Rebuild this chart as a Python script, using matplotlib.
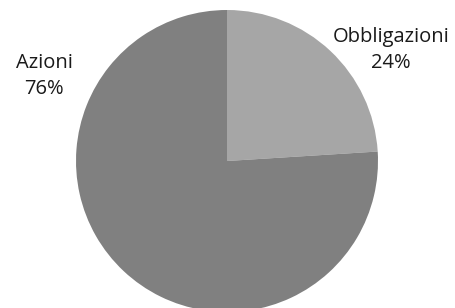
import matplotlib
matplotlib.use('Agg')
from matplotlib import pyplot as plt

# data
labels = ['Obbligazioni', 'Azioni']
values = [24, 76]
colors = ['#a6a6a6', '#808080']

fig = plt.figure(figsize=(4.56, 3.08), dpi=100)
# pie box in pixels: x 76..378, y 10..312 (slightly clipped at bottom)
ax = fig.add_axes([76 / 456, (308 - 312) / 308, 302 / 456, 302 / 308])
ax.pie(values, colors=colors, startangle=90, counterclock=False,
       radius=1, wedgeprops=dict(linewidth=0))
ax.set_xlim(-1, 1)
ax.set_ylim(-1, 1)
ax.set_aspect('equal')
ax.axis('off')

# labels outside the pie
pos = {'Obbligazioni': (1.086, 0.735), 'Azioni': (-1.212, 0.563)}
for lab, v in zip(labels, values):
    x, y = pos[lab]
    ax.text(x, y, '%s\n%d%%' % (lab, v), ha='center', va='center',
            fontsize=14.5, family='Open Sans', color='#1a1a1a',
            linespacing=1.4, clip_on=False)

fig.savefig('out.png', dpi=100)
